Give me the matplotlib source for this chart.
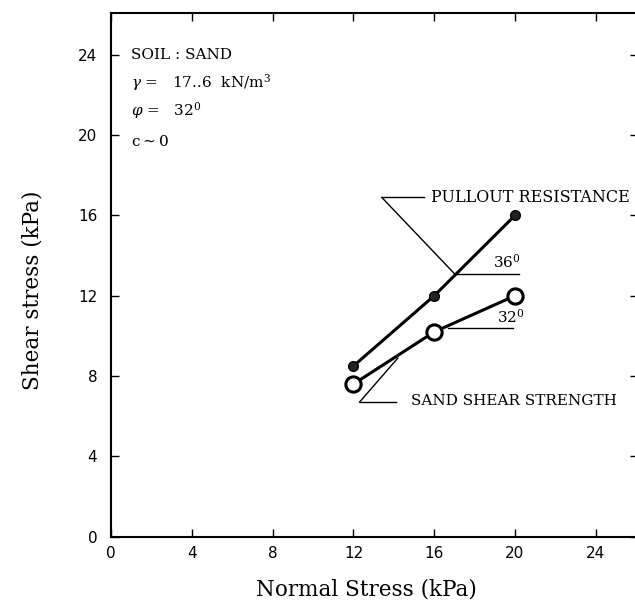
import matplotlib
matplotlib.use("Agg")
import matplotlib.pyplot as plt

normal_stress = [12, 16, 20]
pullout_resistance = [8.5, 12.0, 16.0]
sand_shear_strength = [7.6, 10.2, 12.0]
ticks = [0, 4, 8, 12, 16, 20, 24]

plt.rcParams["mathtext.fontset"] = "dejavuserif"
serif = "DejaVu Serif"

fig = plt.figure(figsize=(6.35, 6.01), dpi=100)
ax = fig.add_axes([0.175, 0.107, 0.83, 0.872])

ax.plot(normal_stress, pullout_resistance, color="black", linewidth=2.2,
        marker="o", markersize=7, markerfacecolor="#222222", markeredgecolor="black", zorder=3)
ax.plot(normal_stress, sand_shear_strength, color="black", linewidth=2.2,
        marker="o", markersize=11, markerfacecolor="white", markeredgecolor="black",
        markeredgewidth=2.2, zorder=3)

ax.set_xlim(0, 26.1)
ax.set_ylim(0, 26.1)
ax.set_xticks(ticks)
ax.set_yticks(ticks)
ax.tick_params(direction="in", length=6, width=1, top=True, right=True,
               labeltop=False, labelright=False, labelsize=11)
ax.tick_params(axis="y", pad=10)
ax.tick_params(axis="x", pad=7)
for s in ax.spines.values():
    s.set_linewidth(1.5)

ax.set_xlabel("Normal Stress (kPa)", family=serif, fontsize=15.5)
ax.set_ylabel("Shear stress (kPa)", family=serif, fontsize=15.5)
ax.xaxis.set_label_coords(0.485, -0.08)
ax.yaxis.set_label_coords(-0.128, 0.47)

# soil properties
ax.text(1.0, 24.0, "SOIL : SAND", family=serif, fontsize=11, va="center")
ax.text(1.0, 22.6, r"$\gamma$ =   17..6  kN/m$^{3}$", family=serif, fontsize=11, va="center")
ax.text(1.0, 21.2, r"$\varphi$ =   32$^{0}$", family=serif, fontsize=11, va="center")
ax.text(1.0, 19.7, r"c$\sim$0", family=serif, fontsize=11, va="center")

# pullout annotation
ax.plot([13.4, 15.5], [16.9, 16.9], color="black", linewidth=1)
ax.plot([13.4, 17.0], [16.9, 13.1], color="black", linewidth=1)
ax.plot([17.0, 20.2], [13.1, 13.1], color="black", linewidth=1)
ax.text(15.85, 16.9, "PULLOUT RESISTANCE", family=serif, fontsize=11.5, va="center")
ax.text(18.9, 13.25, r"36$^{0}$", family=serif, fontsize=11, va="bottom")

# sand annotation
ax.plot([12.3, 14.1], [6.7, 6.7], color="black", linewidth=1)
ax.plot([12.3, 14.2], [6.7, 8.9], color="black", linewidth=1)
ax.plot([16.7, 19.9], [10.4, 10.4], color="black", linewidth=1)
ax.text(14.85, 6.75, "SAND SHEAR STRENGTH", family=serif, fontsize=11, va="center")
ax.text(19.1, 10.5, r"32$^{0}$", family=serif, fontsize=11, va="bottom")

fig.savefig("out.png", dpi=100)
